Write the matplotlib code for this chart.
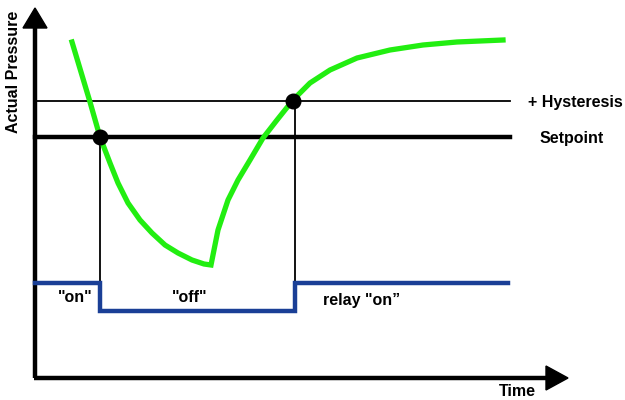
import numpy as np
import matplotlib
matplotlib.use("Agg")
import matplotlib.pyplot as plt

plt.rcParams['font.family'] = ['Liberation Sans', 'DejaVu Sans']

# everything in a 625 x 400 frame, y measured upward from the bottom
setpoint = 263
hysteresis = 299
relay_on = 117
relay_off = 89

curve_x = [72, 81, 90, 100, 110, 118, 128, 140, 152, 165, 178, 192, 204, 211,
           218, 228, 238, 250, 263, 277, 293, 310, 330, 357, 390, 423, 457, 503]
curve_y = [358, 328, 298, 263, 237, 217, 197, 180, 167, 155, 147, 140, 136, 135,
           170, 200, 220, 240, 262, 280, 300, 317, 330, 342, 350, 355, 358, 360]

switch_x = [100, 293]
switch_y = [setpoint, hysteresis]

relay_x = [35, 100, 100, 295, 295, 508]
relay_y = [relay_on, relay_on, relay_off, relay_off, relay_on, relay_on]

fig = plt.figure(figsize=(6.25, 4), dpi=100)
ax = fig.add_axes([0, 0, 1, 1])
ax.set_xlim(0, 625)
ax.set_ylim(0, 400)
ax.axis('off')

# axes with arrows
ax.plot([35, 35], [22, 375], color='black', lw=3.2, solid_capstyle='butt')
ax.plot([33.5, 548], [22, 22], color='black', lw=3.2, solid_capstyle='butt')
ax.fill([23, 47, 35], [372, 372, 392], color='black')
ax.fill([546, 546, 568], [34, 10, 22], color='black')

# hysteresis and setpoint
ax.plot([35, 510], [hysteresis, hysteresis], color='black', lw=1.3)
ax.plot([35, 510], [setpoint, setpoint], color='black', lw=3.2)

# switching instants
ax.plot([100, 100], [relay_on, setpoint], color='black', lw=1.3)
ax.plot([295, 295], [relay_on, hysteresis], color='black', lw=1.3)

# pressure curve
ax.plot(curve_x, curve_y, color='#22ee11', lw=3.8, solid_joinstyle='miter')
ax.scatter(switch_x, switch_y, s=110, color='black', zorder=5)

# relay state
ax.plot(relay_x, relay_y, color='#1a3f96', lw=3.2, solid_joinstyle='miter')

kw = dict(fontsize=11.5, fontweight='bold', ha='center', va='center')
ax.text(75, 103, '"on"', **kw)
ax.text(190, 103, '"off"', **kw)
ax.text(362, 100, 'relay "on\u201d', **kw)
ax.text(575, 298, '+ Hysteresis', **kw)
ax.text(572, 262, 'Setpoint', **kw)
ax.text(517, 8, 'Time', **kw)
ax.text(14, 328, 'Actual Pressure', rotation=90, **kw)

fig.savefig('out.png', dpi=100)
